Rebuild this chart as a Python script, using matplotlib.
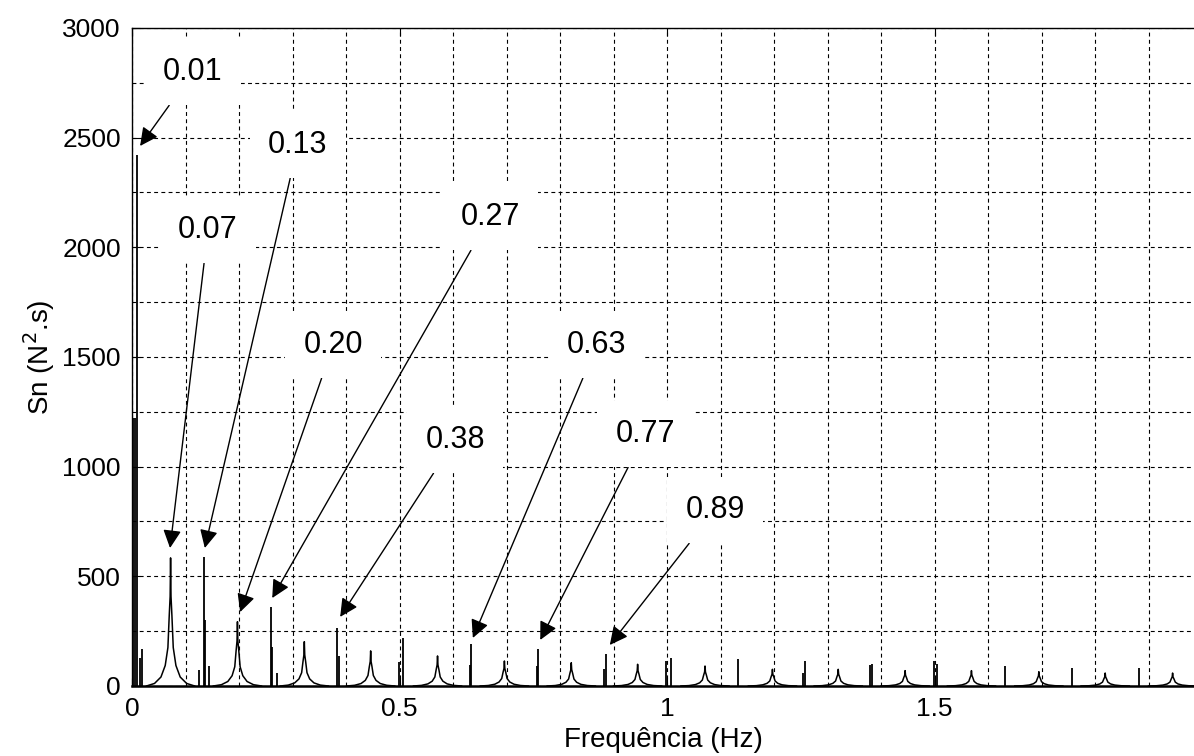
import matplotlib
matplotlib.use("Agg")
import matplotlib.pyplot as plt
from matplotlib.ticker import MultipleLocator, FixedLocator
import numpy as np

plt.rcParams['font.family'] = ['Liberation Sans', 'DejaVu Sans']

# sharp spikes (Hz, N^2.s)
spike_freq = [0.002, 0.005, 0.010, 0.015, 0.019, 0.125, 0.134, 0.136, 0.144,
              0.259, 0.261, 0.270, 0.383, 0.386, 0.499, 0.507, 0.631, 0.633,
              0.756, 0.759, 0.882, 0.885, 0.998, 1.008, 1.133, 1.255, 1.258,
              1.380, 1.383, 1.499, 1.505, 1.632, 1.757, 1.882]
spike_sn = [1220, 1220, 2420, 128, 168, 73, 590, 301, 91,
            362, 179, 59, 266, 137, 111, 220, 96, 192,
            91, 167, 78, 144, 114, 129, 122, 60, 114,
            95, 99, 114, 99, 91, 84, 84]

# broader (resonant) peaks
broad_freq = [0.072, 0.197, 0.322, 0.446, 0.571, 0.696, 0.821, 0.945,
              1.071, 1.197, 1.320, 1.445, 1.569, 1.695, 1.819, 1.945]
broad_sn = [584, 293, 202, 160, 137, 114, 106, 99,
            91, 76, 76, 70, 70, 65, 59, 59]

# peak shape (offset in Hz, fraction of peak height)
shape_df = np.array([-0.045, -0.03, -0.018, -0.010, -0.005, -0.0025, -0.0008, 0,
                     0.0008, 0.0025, 0.005, 0.010, 0.018, 0.03, 0.045])
shape_k = np.array([0.0, 0.02, 0.07, 0.16, 0.3, 0.55, 0.7, 1.0,
                    0.7, 0.55, 0.3, 0.16, 0.07, 0.02, 0.0])

# annotations: label, text position, arrow target
ann_labels = ['0.01', '0.13', '0.07', '0.27', '0.20', '0.63', '0.38', '0.77', '0.89']
ann_text_x = [0.114, 0.310, 0.142, 0.669, 0.376, 0.869, 0.604, 0.959, 1.090]
ann_text_y = [2799, 2467, 2079, 2138, 1555, 1555, 1122, 1149, 802]
ann_tip_x = [0.015, 0.136, 0.071, 0.262, 0.202, 0.637, 0.389, 0.763, 0.893]
ann_tip_y = [2462, 629, 629, 401, 337, 219, 315, 210, 187]

fig = plt.figure(figsize=(11.94, 7.56), dpi=100)
ax = fig.add_axes([0.1106, 0.0926, 0.8894, 0.8704])

ax.vlines(spike_freq, 0, spike_sn, color='black', lw=1.3, zorder=3)
for f, h in zip(broad_freq, broad_sn):
    ax.plot(f + shape_df, h * shape_k, color='black', lw=1.1, zorder=3)

ax.set_xlim(0, 1.985)
ax.set_ylim(0, 3000)
ax.xaxis.set_major_locator(FixedLocator([0, 0.5, 1, 1.5]))
ax.set_xticklabels(['0', '0.5', '1', '1.5'])
ax.xaxis.set_minor_locator(MultipleLocator(0.1))
ax.yaxis.set_major_locator(MultipleLocator(500))
ax.yaxis.set_minor_locator(MultipleLocator(250))
ax.grid(True, which='both', color='black', linestyle=(0, (3.5, 3)), lw=0.8, zorder=0)
ax.set_axisbelow(True)
ax.tick_params(which='major', direction='in', length=6, top=True, right=False,
               labelsize=19, pad=8)
ax.tick_params(which='minor', length=0)
ax.spines['right'].set_visible(False)
for s in ['left', 'top']:
    ax.spines[s].set_linewidth(1.0)
ax.spines['bottom'].set_linewidth(1.8)

ax.set_xlabel('Frequência (Hz)', fontsize=20, labelpad=4)
ax.set_ylabel('Sn (N$^2$.s)', fontsize=20, labelpad=4)

for lab, tx, ty, px, py in zip(ann_labels, ann_text_x, ann_text_y, ann_tip_x, ann_tip_y):
    ax.annotate(lab, xy=(px, py), xytext=(tx, ty), fontsize=22,
                ha='center', va='center', zorder=5,
                bbox=dict(boxstyle='square,pad=0.6', fc='white', ec='none'),
                arrowprops=dict(arrowstyle='-|>,head_length=0.5,head_width=0.25',
                                color='black', lw=1.0,
                                mutation_scale=22, shrinkA=0, shrinkB=0))

fig.savefig('out.png', dpi=100)
